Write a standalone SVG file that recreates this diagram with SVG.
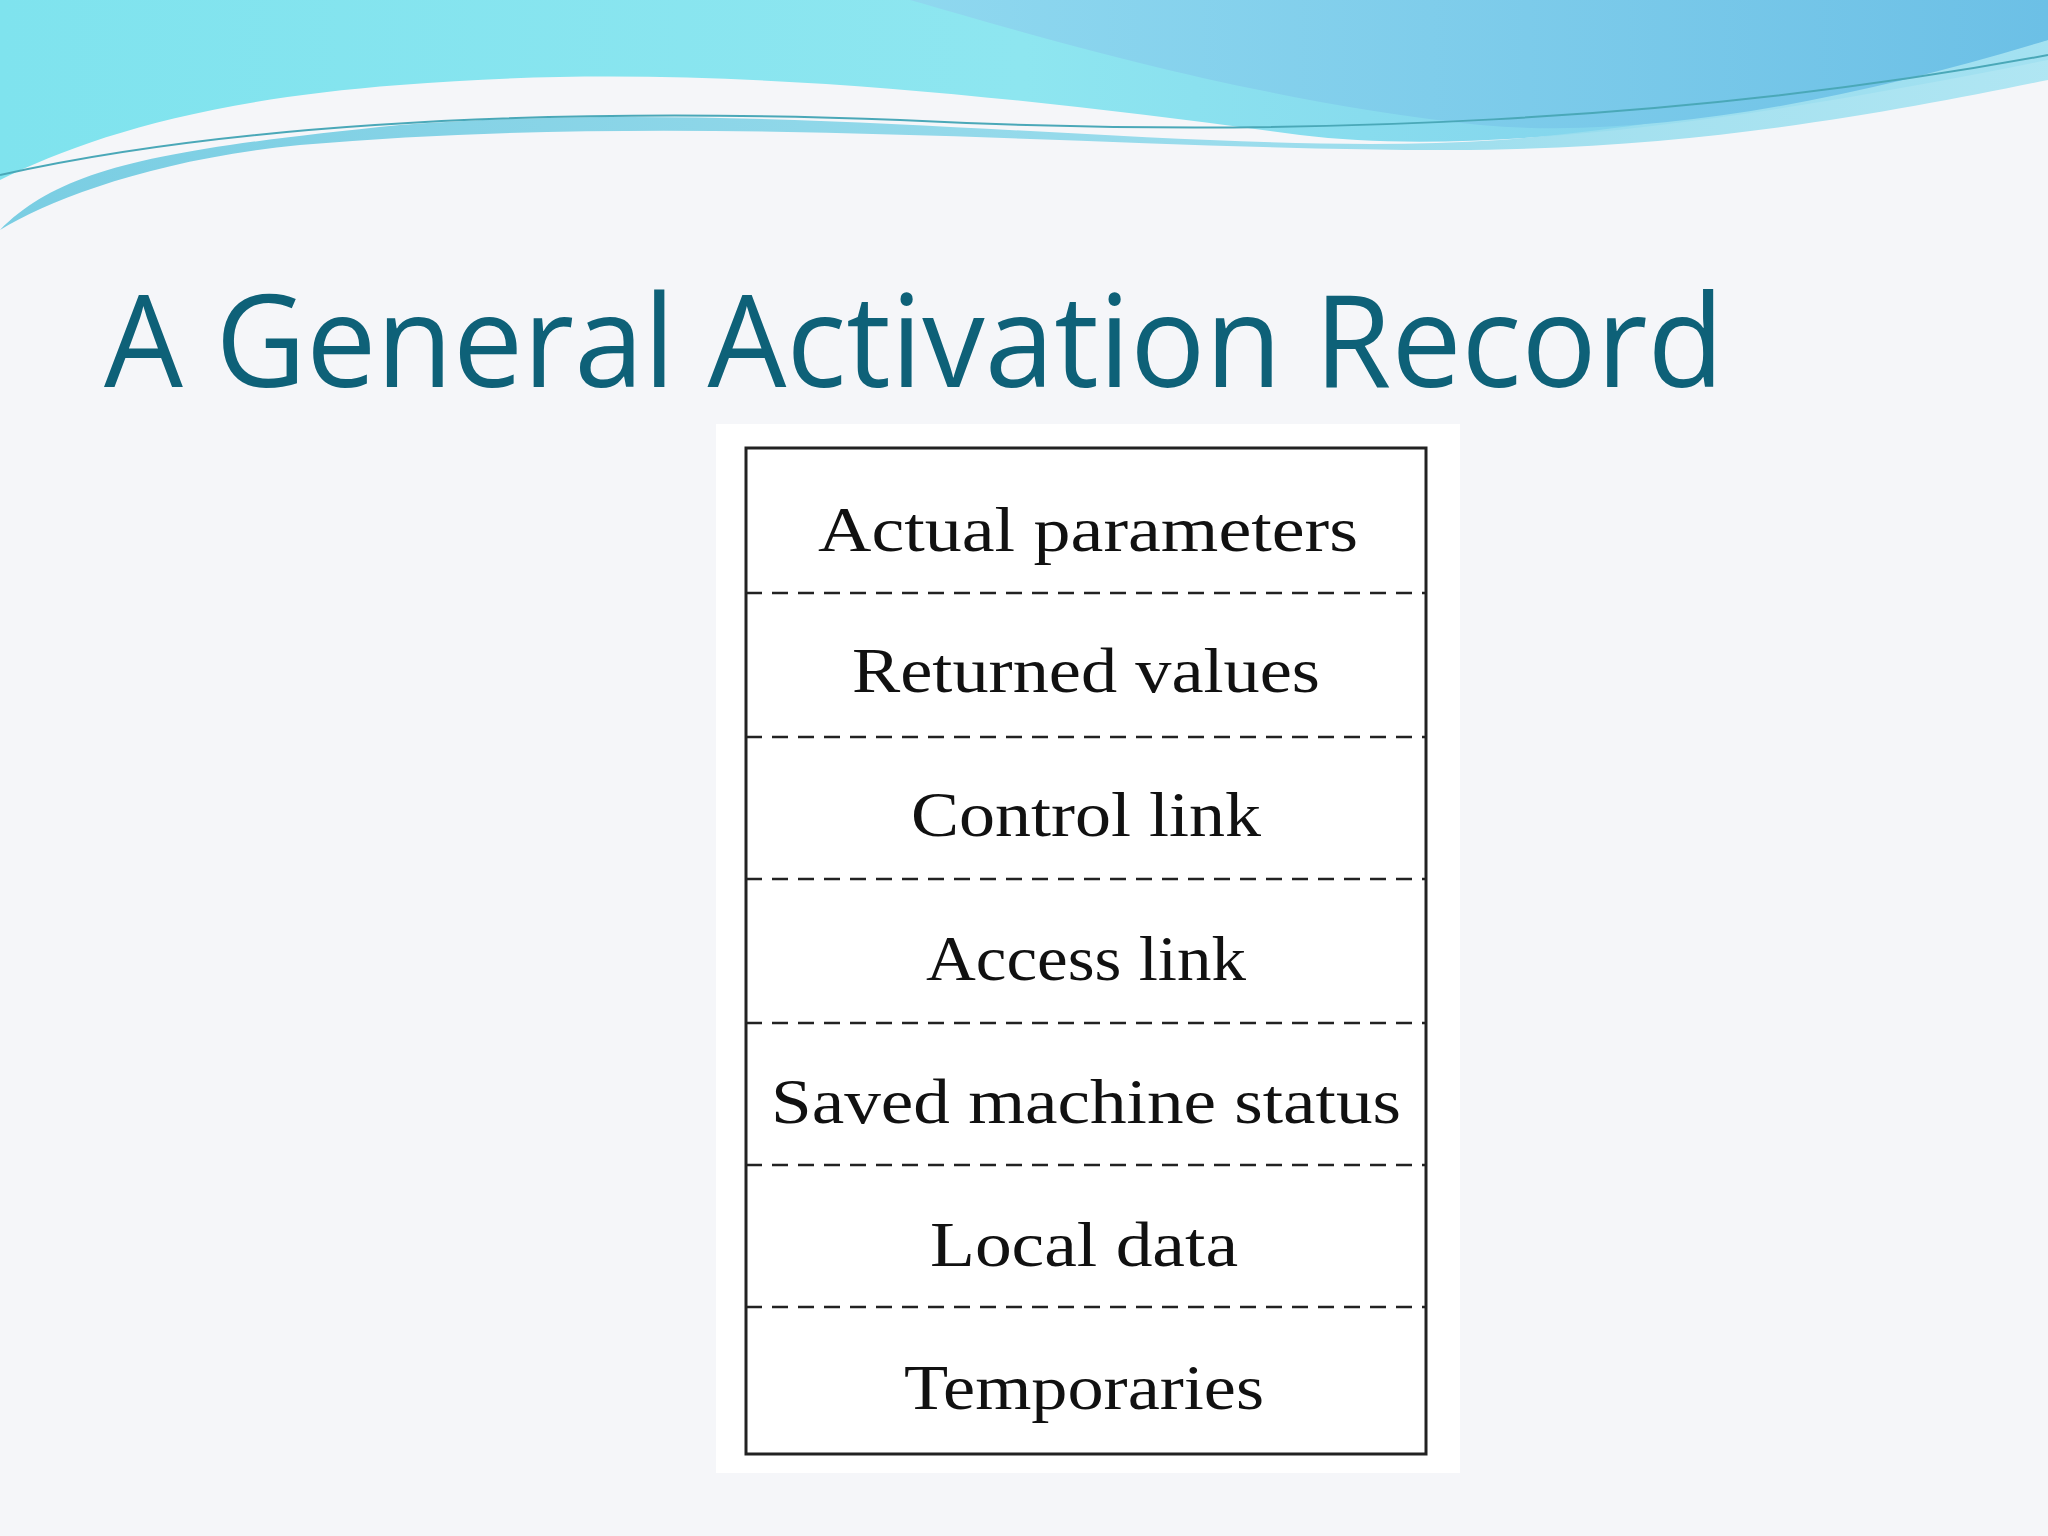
<svg xmlns="http://www.w3.org/2000/svg" width="2048" height="1536" viewBox="0 0 2048 1536">
<defs>
<linearGradient id="g1" x1="0" y1="0" x2="1" y2="0"><stop offset="0" stop-color="#7fe3ee"/><stop offset="0.5" stop-color="#8ee6f0"/><stop offset="1" stop-color="#7cc8ea"/></linearGradient>
<linearGradient id="g2" x1="0" y1="0" x2="1" y2="0"><stop offset="0" stop-color="#8fd8ef"/><stop offset="1" stop-color="#6cc0e6"/></linearGradient>
<linearGradient id="g3" x1="0" y1="0" x2="1" y2="0"><stop offset="0" stop-color="#6cc9e0"/><stop offset="1" stop-color="#a8e4f2"/></linearGradient>
<style>
.lbl{font-family:"Liberation Serif",serif;font-size:64px;fill:#111;text-anchor:middle}
.dash{stroke:#222;stroke-width:2.5;stroke-dasharray:16,10;fill:none}
</style>
</defs>
<rect width="2048" height="1536" fill="#f5f6f9"/>
<g id="decor">
<path d="M0,0 H2048 V60 C1800,110 1500,160 1300,135 C1000,95 700,60 400,85 C200,100 80,140 0,180 Z" fill="url(#g1)"/>
<path d="M0,230 C60,170 150,150 400,125 C800,95 1200,160 1500,140 C1750,120 1900,70 2048,40 V80 C1900,110 1700,150 1450,150 C1100,150 700,110 300,145 C150,160 50,200 0,230 Z" fill="url(#g3)" opacity="0.9"/>
<path d="M910,0 H2048 V40 C1850,100 1650,140 1480,125 C1250,100 1050,40 910,0 Z" fill="url(#g2)"/>
<path d="M0,175 C200,130 500,105 900,120 C1300,140 1700,120 2048,55" stroke="#4aa8b8" stroke-width="2" fill="none"/>
</g>
<text id="title" x="104" y="387" font-family="'Open Sans','Liberation Sans',sans-serif" font-size="128" fill="#0e6178" textLength="1620" lengthAdjust="spacingAndGlyphs">A General Activation Record</text>
<rect x="716" y="424" width="744" height="1049" fill="#ffffff"/>
<g id="connectors">
<line class="dash" x1="746" y1="593" x2="1426" y2="593"/>
<line class="dash" x1="746" y1="737" x2="1426" y2="737"/>
<line class="dash" x1="746" y1="879" x2="1426" y2="879"/>
<line class="dash" x1="746" y1="1023" x2="1426" y2="1023"/>
<line class="dash" x1="746" y1="1165" x2="1426" y2="1165"/>
<line class="dash" x1="746" y1="1307" x2="1426" y2="1307"/>
</g>
<g id="record"><rect x="746" y="448" width="680" height="1006" fill="none" stroke="#222" stroke-width="3"/></g>
<g id="n1"><text class="lbl" x="1088" y="551" textLength="540" lengthAdjust="spacingAndGlyphs">Actual parameters</text></g>
<g id="n2"><text class="lbl" x="1086" y="692" textLength="468" lengthAdjust="spacingAndGlyphs">Returned values</text></g>
<g id="n3"><text class="lbl" x="1086" y="836" textLength="350" lengthAdjust="spacingAndGlyphs">Control link</text></g>
<g id="n4"><text class="lbl" x="1086" y="980" textLength="320" lengthAdjust="spacingAndGlyphs">Access link</text></g>
<g id="n5"><text class="lbl" x="1086" y="1123" textLength="630" lengthAdjust="spacingAndGlyphs">Saved machine status</text></g>
<g id="n6"><text class="lbl" x="1084" y="1266" textLength="308" lengthAdjust="spacingAndGlyphs">Local data</text></g>
<g id="n7"><text class="lbl" x="1084" y="1409" textLength="360" lengthAdjust="spacingAndGlyphs">Temporaries</text></g>
</svg>
